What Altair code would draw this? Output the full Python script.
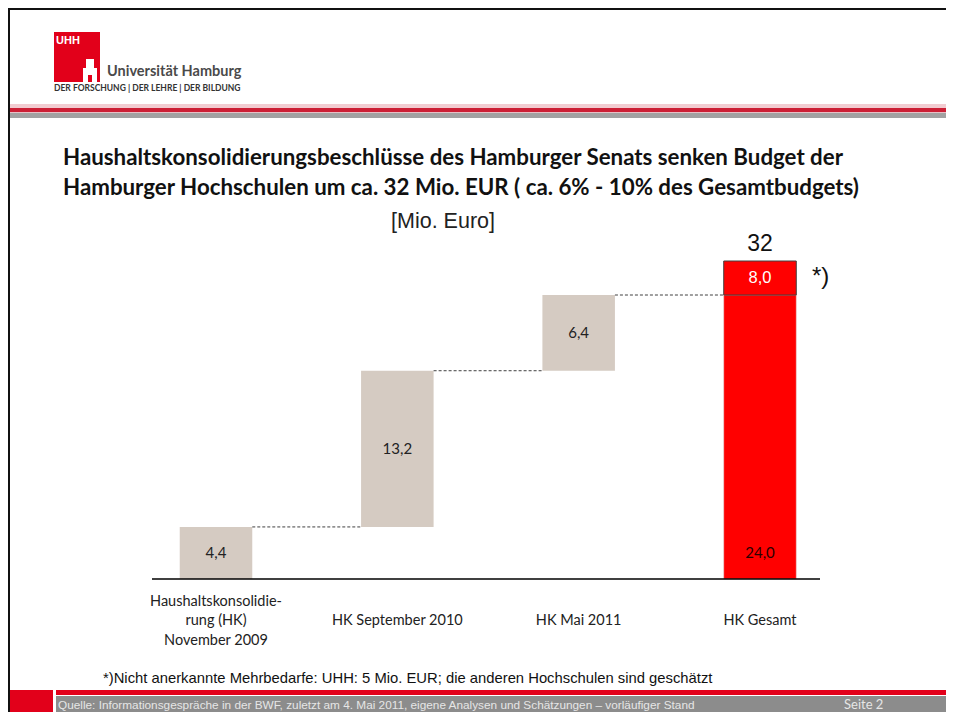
import altair as alt
import pandas as pd

# ---------------- data ----------------
categories = ["Haushaltskonsolidie-\nrung (HK)\nNovember 2009", "HK September 2010", "HK Mai 2011", "HK Gesamt"]
step_values = [4.4, 13.2, 6.4]
step_labels = ["4,4", "13,2", "6,4"]
total_parts = [24.0, 8.0]
total_part_labels = ["24,0", "8,0"]
total_label = "32"

title_lines = [
    "Haushaltskonsolidierungsbeschlüsse des Hamburger Senats senken Budget der",
    "Hamburger Hochschulen um ca. 32 Mio. EUR ( ca. 6% - 10% des Gesamtbudgets)",
]
unit_text = "[Mio. Euro]"
footnote_text = "*)Nicht anerkannte Mehrbedarfe:  UHH: 5 Mio. EUR; die anderen Hochschulen sind geschätzt"
source_text = "Quelle:  Informationsgespräche in der BWF, zuletzt am 4. Mai 2011, eigene Analysen und Schätzungen – vorläufiger Stand"
page_text = "Seite  2"

BEIGE = "#D5CBC2"
RED = "#FF0000"

W, H = 938, 704
RIGHT = 8 + W   # page x of the chart's right edge
BOTTOM = 8 + H  # page y of the chart's bottom edge


def P(v):
    """page pixel -> chart pixel"""
    return v - 8


# ---------------- tables ----------------
rows = []
cum = 0.0
ends = []
for i, (v, l) in enumerate(zip(step_values, step_labels)):
    rows.append(dict(idx=i, x0=i - 0.2, x1=i + 0.2, y0=cum, y1=cum + v, label=l,
                     ly=cum + v / 2, kind="step"))
    cum += v
    ends.append(cum)
rows.append(dict(idx=3, x0=2.8, x1=3.2, y0=0.0, y1=total_parts[0], label=total_part_labels[0],
                 ly=step_values[0] / 2, kind="base"))
rows.append(dict(idx=3, x0=2.8, x1=3.2, y0=total_parts[0], y1=total_parts[0] + total_parts[1],
                 label=total_part_labels[1], ly=total_parts[0] + total_parts[1] / 2, kind="extra"))
bars = pd.DataFrame(rows)

conn = pd.DataFrame([dict(x0=i + 0.2, x1=i + 0.8, y=ends[i]) for i in range(3)])
cats = pd.DataFrame(dict(idx=list(range(4)), cat=categories,
                         lines=[c.count("\n") + 1 for c in categories]))
tot = pd.DataFrame([dict(idx=3, y=total_parts[0] + total_parts[1], label=total_label)])
base_df = pd.DataFrame([dict(y=0.0)])

xs = alt.Scale(domain=[0, 3], range=[P(216), P(760)], nice=False, zero=False)
ys = alt.Scale(domain=[0, 24, 32], range=[P(579), P(295), P(261)], nice=False, zero=False)

one = pd.DataFrame({"d": [0]})


def rect(x0, x1, y0, y1, color):
    return alt.Chart(one).mark_rect(color=color).encode(
        x=alt.value(P(x0)), x2=alt.value(P(x1)), y=alt.value(P(y0)), y2=alt.value(P(y1)))


def label(text, x, y, size, font="Liberation Sans", color="#222222", weight="normal", align="left"):
    return alt.Chart(one).mark_text(text=text, font=font, fontSize=size, color=color,
                                    fontWeight=weight, align=align, baseline="middle").encode(
        x=alt.value(P(x)), y=alt.value(P(y)))


layers = []
# frame
layers.append(rect(8, 10, 8, BOTTOM, "#111111"))
layers.append(rect(8, RIGHT, 8, 10, "#111111"))

# logo
layers.append(rect(54, 100, 32, 82, "#E2001A"))
layers.append(label("UHH", 56, 41, 11, weight="bold", color="#FFFFFF"))
layers.append(rect(83, 97, 68, 82, "#FFFFFF"))
layers.append(rect(86, 94, 59, 68, "#FFFFFF"))
layers.append(rect(88, 92, 75, 82, "#E2001A"))
layers.append(label("Universität Hamburg", 107, 72, 14.5, font="Lato", weight="bold", color="#4A4A4A"))
layers.append(label("DER FORSCHUNG  |  DER LEHRE  |  DER BILDUNG", 54, 88, 8.5, font="Lato",
                    weight="bold", color="#333333"))

# header bands
layers.append(rect(10, RIGHT, 104, 108, "#F2CCD1"))
layers.append(rect(10, RIGHT, 108, 112, "#CC1F35"))
layers.append(rect(10, RIGHT, 112, 113, "#E8C0C6"))
layers.append(rect(10, RIGHT, 113, 118, "#A2A2A2"))

# titles
layers.append(label(title_lines[0], 63, 158, 22.3, font="Lato", weight="bold", color="#111111"))
layers.append(label(title_lines[1], 63, 188, 22.3, font="Lato", weight="bold", color="#111111"))
layers.append(label(unit_text, 443, 222, 21.5, align="center", color="#222222"))

# bars
layers.append(alt.Chart(bars).mark_rect().encode(
    x=alt.X("x0:Q", scale=xs, axis=None), x2="x1:Q",
    y=alt.Y("y0:Q", scale=ys, axis=None), y2="y1:Q",
    color=alt.Color("kind:N", scale=alt.Scale(domain=["step", "base", "extra"],
                                              range=[BEIGE, RED, RED]), legend=None),
    stroke=alt.Stroke("kind:N", scale=alt.Scale(domain=["step", "base", "extra"],
                                                range=[BEIGE, "#D8D8D8", "#404040"]), legend=None),
    strokeWidth=alt.StrokeWidth("kind:N", scale=alt.Scale(domain=["step", "base", "extra"],
                                                          range=[0, 1, 2.5]), legend=None),
))

# connectors
layers.append(alt.Chart(conn).mark_rule(color="#404040", strokeDash=[3, 2], strokeWidth=1).encode(
    x=alt.X("x0:Q", scale=xs, axis=None), x2="x1:Q", y=alt.Y("y:Q", scale=ys, axis=None)))

# baseline
layers.append(alt.Chart(base_df).mark_rule(color="#000000", strokeWidth=1.3).encode(
    x=alt.value(P(152)), x2=alt.value(P(820)), y=alt.Y("y:Q", scale=ys, axis=None)))

# value labels
for kind, font, size, color in [("step", "Lato", 15, "#222222"), ("base", "Lato", 15, "#2A0000"),
                                ("extra", "Liberation Sans", 16.5, "#FFFFFF")]:
    layers.append(alt.Chart(bars).transform_filter(alt.datum.kind == kind).mark_text(
        font=font, fontSize=size, color=color, baseline="middle").encode(
        x=alt.X("idx:Q", scale=xs, axis=None), y=alt.Y("ly:Q", scale=ys, axis=None), text="label:N"))

# total label and asterisk
layers.append(alt.Chart(tot).mark_text(font="Liberation Sans", fontSize=23, color="#111111",
                                       baseline="middle", dy=-17).encode(
    x=alt.X("idx:Q", scale=xs, axis=None), y=alt.Y("y:Q", scale=ys, axis=None), text="label:N"))
layers.append(label("*)", 812, 277, 24, color="#111111"))

# category labels (multi-line block centred on the same middle line)
LH = 19.5
for n in sorted(set(cats["lines"])):
    layers.append(alt.Chart(cats).transform_filter(alt.datum.lines == n).mark_text(
        font="Lato", fontSize=14.5, color="#222222", baseline="middle", lineBreak="\n",
        lineHeight=LH).encode(
        x=alt.X("idx:Q", scale=xs, axis=None), y=alt.value(P(621) - (n - 1) * LH / 2), text="cat:N"))

# footnote
layers.append(label(footnote_text, 103, BOTTOM - 33, 14.8, color="#111111"))

# footer
layers.append(rect(10, 53, BOTTOM - 22, BOTTOM, "#E2001A"))
layers.append(rect(56, RIGHT, BOTTOM - 22, BOTTOM - 17, "#E2001A"))
layers.append(rect(56, RIGHT, BOTTOM - 16, BOTTOM, "#8C8C8C"))
layers.append(label(source_text, 58, BOTTOM - 7, 11.8, color="#E6E6E6"))
layers.append(label(page_text, 844, BOTTOM - 7, 13, font="Lato", color="#E6E6E6"))

chart = alt.layer(*layers).properties(
    width=W, height=H, padding=0, autosize=alt.AutoSizeParams(type="none"),
    background="#FFFFFF",
).configure_view(stroke=None)

chart.save("out.html", embed_options={"renderer": "svg", "actions": False})
